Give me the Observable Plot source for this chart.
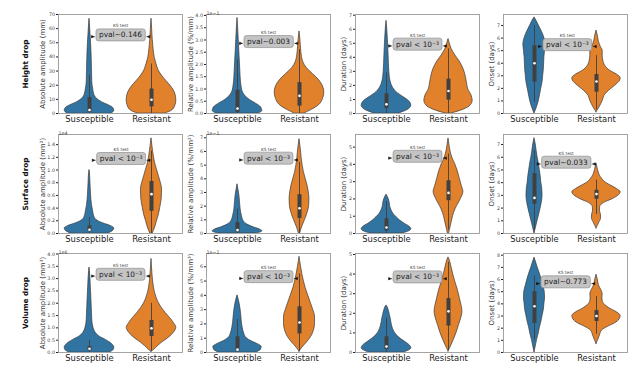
<!DOCTYPE html>
<html><head><meta charset="utf-8">
<script src="https://cdn.jsdelivr.net/npm/d3@7"></script>
<script src="https://cdn.jsdelivr.net/npm/@observablehq/plot@0.6"></script>
<style>
body{margin:0;background:#fff;font-family:"DejaVu Sans",sans-serif;}
#fig{position:relative;width:640px;height:371px;overflow:hidden;background:#fff;}
#fig svg{position:absolute;}
.rowlab{position:absolute;font:bold 7.3px "DejaVu Sans";color:#111;transform:translate(-50%,-50%) rotate(-90deg);white-space:nowrap;}
</style></head><body><div id="fig"></div>
<script>
const categories = ["Susceptible", "Resistant"];
const rowLabels = ["Height drop", "Surface drop", "Volume drop"];
const yLabels = ["Absolute amplitude (mm)", "Relative amplitude (%/mm)", "Duration (days)", "Onset (days)",
  "Absolute amplitude (mm²)", "Relative amplitude (%/mm²)", "Duration (days)", "Onset (days)",
  "Absolute amplitude (mm³)", "Relative amplitude (%/mm³)", "Duration (days)", "Onset (days)"];
const pvalTexts = ["pval~0.146", "pval~0.003", "pval < 10⁻³", "pval < 10⁻³",
  "pval < 10⁻³", "pval < 10⁻³", "pval < 10⁻³", "pval~0.033",
  "pval < 10⁻³", "pval < 10⁻³", "pval < 10⁻³", "pval~0.773"];
const offsetTexts = ["", "1e−1", "", "", "1e4", "1e−1", "", "", "1e6", "1e−1", "", ""];
const yMax = [70, 4.04, 7.05, 7.88, 1.56, 7.24, 5.73, 7.79, 4.02, 6.93, 5.05, 8.14];
const yTicks = [
  [0, 10, 20, 30, 40, 50, 60, 70], [0, 0.5, 1, 1.5, 2, 2.5, 3, 3.5, 4], [0, 1, 2, 3, 4, 5, 6, 7], [0, 1, 2, 3, 4, 5, 6, 7],
  [0, 0.2, 0.4, 0.6, 0.8, 1, 1.2, 1.4], [0, 1, 2, 3, 4, 5, 6, 7], [0, 1, 2, 3, 4, 5], [0, 1, 2, 3, 4, 5, 6, 7],
  [0, 0.5, 1, 1.5, 2, 2.5, 3, 3.5, 4], [0, 1, 2, 3, 4, 5, 6], [0, 1, 2, 3, 4, 5], [0, 1, 2, 3, 4, 5, 6, 7, 8]];
const tickDecimals = [0, 1, 0, 0, 1, 0, 0, 0, 1, 0, 0, 0];
const annotX = [0.5, 0.5, 0.5, 0.53, 0.51, 0.5, 0.5, 0.51, 0.5, 0.5, 0.5, 0.5];
const annotY = [55.5, 2.93, 4.93, 5.47, 1.18, 5.5, 4.46, 5.6, 3.17, 5.3, 3.85, 5.8];

// box statistics: [lower whisker, q1, median, q3, upper whisker]
const boxSusceptible = [[0, 1, 2.5, 11.3, 27], [0, 0.05, 0.2, 0.95, 2.2], [0, 0.35, 0.65, 1.4, 2.9], [0.9, 2.5, 4.0, 5.4, 7.0],
  [0, 0.03, 0.06, 0.12, 0.25], [0, 0.1, 0.25, 0.8, 1.8], [0, 0.15, 0.35, 0.85, 1.85], [0.2, 2.3, 2.8, 4.7, 6.5],
  [0, 0.08, 0.15, 0.25, 0.5], [0, 0.1, 0.2, 1.1, 2.3], [0, 0.15, 0.3, 0.8, 1.75], [1.0, 2.4, 3.8, 5.0, 6.3]];
const boxResistant = [[0, 4.7, 9.7, 17.3, 35], [0, 0.3, 0.72, 1.26, 2.6], [0, 0.95, 1.6, 2.45, 4.6], [0.3, 1.7, 2.55, 3.1, 4.6],
  [0, 0.35, 0.62, 0.82, 1.3], [0, 1.1, 1.85, 2.84, 5.2], [0.2, 1.9, 2.35, 3.05, 4.6], [1.5, 2.7, 3.1, 3.4, 4.2],
  [0.05, 0.65, 0.98, 1.3, 2.0], [0.1, 1.3, 2.1, 3.2, 5.5], [0.1, 1.35, 2.1, 2.75, 4.6], [1.5, 2.55, 3.0, 3.45, 4.6]];

// violin outlines: [value, half-width in category units]
const hAbsS = [[0,0.36],[2,0.4],[4,0.38],[6,0.3],[8,0.2],[10,0.13],[13,0.08],[17,0.06],[22,0.045],[30,0.04],[40,0.035],[50,0.025],[57,0.015],[63,0.007],[67,0]];
const hAbsR = [[0,0.22],[2,0.33],[5,0.38],[9,0.4],[13,0.39],[17,0.35],[21,0.28],[25,0.2],[30,0.12],[35,0.08],[40,0.05],[45,0.035],[52,0.02],[60,0.01],[67,0]];
const hRelS = [[0,0.34],[0.1,0.4],[0.25,0.38],[0.4,0.3],[0.55,0.2],[0.7,0.13],[0.85,0.09],[1.1,0.065],[1.5,0.05],[2.0,0.04],[2.5,0.03],[3.0,0.02],[3.5,0.01],[3.9,0]];
const hRelR = [[0,0.08],[0.15,0.2],[0.35,0.32],[0.6,0.38],[0.85,0.4],[1.1,0.38],[1.35,0.32],[1.6,0.22],[1.85,0.12],[2.1,0.06],[2.5,0.03],[3.0,0.015],[3.35,0]];
const hDurS = [[0,0.2],[0.25,0.34],[0.55,0.4],[0.85,0.37],[1.15,0.28],[1.45,0.18],[1.8,0.11],[2.2,0.07],[3.0,0.045],[4.0,0.035],[5.0,0.025],[6.0,0.012],[6.6,0]];
const hDurR = [[0,0.05],[0.2,0.2],[0.5,0.34],[0.9,0.39],[1.3,0.37],[1.7,0.32],[2.1,0.3],[2.6,0.28],[3.2,0.24],[3.7,0.18],[4.2,0.1],[4.6,0.05],[5.0,0.02],[5.3,0]];
const hOnsS = [[0,0],[0.5,0.04],[1.0,0.07],[1.5,0.09],[2.0,0.11],[2.5,0.13],[3.0,0.14],[3.5,0.15],[4.0,0.155],[4.5,0.16],[5.0,0.17],[5.5,0.18],[6.0,0.16],[6.5,0.12],[7.0,0.07],[7.4,0.03],[7.65,0]];
const hOnsR = [[0.1,0],[0.5,0.05],[1.0,0.1],[1.5,0.14],[1.8,0.2],[2.2,0.3],[2.6,0.38],[2.8,0.39],[3.1,0.33],[3.4,0.22],[3.8,0.14],[4.2,0.11],[4.6,0.1],[5.0,0.1],[5.3,0.07],[5.7,0.04],[6.2,0.02],[6.6,0]];
const sAbsS = [[0,0.3],[0.04,0.38],[0.08,0.4],[0.12,0.34],[0.16,0.22],[0.2,0.13],[0.26,0.08],[0.34,0.06],[0.45,0.04],[0.6,0.025],[0.8,0.015],[0.95,0.007],[1.0,0]];
const sAbsR = [[0,0.02],[0.1,0.06],[0.2,0.09],[0.3,0.12],[0.4,0.14],[0.55,0.165],[0.7,0.17],[0.8,0.15],[0.9,0.12],[1.0,0.09],[1.1,0.06],[1.2,0.04],[1.3,0.025],[1.4,0.012],[1.5,0]];
const sRelS = [[0,0.3],[0.15,0.4],[0.3,0.36],[0.45,0.26],[0.65,0.16],[0.9,0.1],[1.3,0.07],[1.8,0.05],[2.3,0.04],[2.8,0.03],[3.2,0.015],[3.6,0]];
const sRelR = [[0,0.01],[0.5,0.045],[1.0,0.09],[1.5,0.13],[2.0,0.155],[2.5,0.16],[3.0,0.15],[3.5,0.13],[4.0,0.1],[4.5,0.07],[5.0,0.05],[5.5,0.035],[6.0,0.025],[6.5,0.012],[6.9,0]];
const sDurS = [[0,0.25],[0.1,0.35],[0.25,0.4],[0.4,0.37],[0.55,0.3],[0.75,0.22],[0.95,0.16],[1.15,0.11],[1.35,0.08],[1.55,0.06],[1.8,0.05],[2.0,0.035],[2.15,0.015],[2.25,0]];
const sDurR = [[0,0.01],[0.4,0.035],[0.8,0.06],[1.2,0.09],[1.6,0.14],[2.0,0.2],[2.4,0.24],[2.8,0.21],[3.2,0.18],[3.6,0.15],[4.0,0.11],[4.4,0.06],[4.8,0.03],[5.2,0.012],[5.5,0]];
const sOnsS = [[0,0],[0.5,0.025],[1.0,0.05],[1.5,0.075],[2.0,0.1],[2.5,0.12],[3.0,0.13],[3.5,0.125],[4.0,0.11],[4.5,0.1],[5.0,0.085],[5.5,0.07],[6.0,0.05],[6.5,0.035],[7.0,0.02],[7.5,0]];
const sOnsR = [[0.4,0],[0.6,0.02],[0.9,0.05],[1.2,0.075],[1.5,0.07],[1.8,0.055],[2.1,0.06],[2.4,0.12],[2.7,0.26],[3.0,0.36],[3.25,0.39],[3.5,0.33],[3.75,0.24],[4.0,0.15],[4.3,0.09],[4.6,0.05],[5.0,0.025],[5.5,0]];
const vAbsS = [[0,0.33],[0.1,0.39],[0.2,0.4],[0.35,0.36],[0.5,0.27],[0.65,0.16],[0.8,0.1],[1.0,0.065],[1.3,0.045],[1.6,0.04],[1.9,0.035],[2.2,0.03],[2.6,0.022],[3.0,0.015],[3.3,0.007],[3.45,0]];
const vAbsR = [[0.03,0],[0.1,0.04],[0.25,0.1],[0.4,0.17],[0.6,0.28],[0.8,0.36],[1.0,0.4],[1.2,0.36],[1.4,0.3],[1.6,0.23],[1.8,0.17],[2.0,0.12],[2.2,0.085],[2.5,0.05],[2.8,0.03],[3.2,0.015],[3.5,0.007],[3.8,0]];
const vRelS = [[0,0.3],[0.2,0.38],[0.4,0.39],[0.6,0.32],[0.8,0.22],[1.0,0.15],[1.3,0.11],[1.7,0.085],[2.1,0.07],[2.6,0.06],[3.0,0.05],[3.4,0.035],[3.7,0.02],[4.0,0]];
const vRelR = [[0.05,0],[0.3,0.04],[0.7,0.12],[1.1,0.19],[1.5,0.23],[2.0,0.25],[2.5,0.25],[3.0,0.22],[3.5,0.18],[4.0,0.14],[4.5,0.1],[5.0,0.07],[5.5,0.045],[6.0,0.025],[6.4,0.01],[6.7,0]];
const vDurS = [[0,0.28],[0.1,0.36],[0.22,0.4],[0.35,0.38],[0.5,0.32],[0.7,0.23],[0.9,0.16],[1.1,0.12],[1.3,0.095],[1.5,0.08],[1.7,0.07],[1.9,0.055],[2.1,0.04],[2.3,0.02],[2.4,0]];
const vDurR = [[0.05,0],[0.25,0.03],[0.6,0.08],[1.0,0.13],[1.4,0.17],[1.8,0.21],[2.1,0.225],[2.4,0.21],[2.8,0.18],[3.2,0.15],[3.6,0.11],[4.0,0.075],[4.4,0.045],[4.7,0.02],[4.85,0]];
const vOnsS = [[0,0],[0.5,0.02],[1.0,0.04],[1.5,0.065],[2.0,0.085],[2.5,0.11],[3.0,0.13],[3.5,0.15],[4.0,0.16],[4.5,0.17],[5.0,0.165],[5.5,0.14],[6.0,0.115],[6.5,0.085],[7.0,0.05],[7.5,0.02],[7.8,0]];
const vOnsR = [[0.7,0],[1.0,0.025],[1.4,0.055],[1.8,0.09],[2.1,0.18],[2.4,0.3],[2.7,0.37],[3.0,0.39],[3.3,0.33],[3.6,0.22],[3.9,0.14],[4.2,0.1],[4.5,0.095],[4.8,0.1],[5.1,0.08],[5.5,0.04],[6.0,0.02],[6.4,0]];

const violinsS = [hAbsS, hRelS, hDurS, hOnsS, sAbsS, sRelS, sDurS, sOnsS, vAbsS, vRelS, vDurS, vOnsS];
const violinsR = [hAbsR, hRelR, hDurR, hOnsR, sAbsR, sRelR, sDurR, sOnsR, vAbsR, vRelR, vDurR, vOnsR];

// ---- layout (pixels) ----
const colLeft = [58, 206, 355, 503];
const rowTop = [14, 134, 253];
const frameW = 124, frameH = 99;
const mL = 44, mR = 6, mT = 10, mB = 18;
const labelOffset = [16, 16, 12, 12];
const colors = ["#3274a1", "#e1812c"];
const edge = "#3a3a3a";

function violin(profile, cat, color) {
  const d = profile.map(([v, w]) => ({v, x1: cat - w, x2: cat + w}));
  return Plot.areaX(d, {y: "v", x1: "x1", x2: "x2", fill: color, stroke: edge, strokeWidth: 0.7, curve: "monotone-y", clip: true});
}
function boxMarks(stats, cat) {
  const [lo, q1, med, q3, hi] = stats;
  return [
    Plot.ruleX([{x: cat, y1: lo, y2: hi}], {x: "x", y1: "y1", y2: "y2", stroke: "#404040", strokeWidth: 0.9}),
    Plot.ruleX([{x: cat, y1: q1, y2: q3}], {x: "x", y1: "y1", y2: "y2", stroke: "#404040", strokeWidth: 4}),
    Plot.dot([{x: cat, y: med}], {x: "x", y: "y", r: 1.3, fill: "white", stroke: "none"})
  ];
}

const fig = document.getElementById("fig");
for (let i = 0; i < 12; i++) {
  const r = Math.floor(i / 4), c = i % 4;
  const dec = tickDecimals[i];
  const chart = Plot.plot({
    width: frameW + mL + mR, height: frameH + mT + mB,
    marginLeft: mL, marginRight: mR, marginTop: mT, marginBottom: mB,
    style: {background: "transparent", fontFamily: "DejaVu Sans", color: "#222", overflow: "visible"},
    x: {domain: [-0.5, 1.5]},
    y: {domain: [0, yMax[i]]},
    marks: [
      violin(violinsS[i], 0, colors[0]),
      violin(violinsR[i], 1, colors[1]),
      ...boxMarks(boxSusceptible[i], 0),
      ...boxMarks(boxResistant[i], 1),
      Plot.frame({stroke: "#9a9a9a", strokeWidth: 0.9}),
      Plot.axisX({ticks: [0, 1], tickFormat: d => categories[d], fontSize: 8.4, tickSize: 0, tickPadding: 3, label: null}),
      Plot.axisY({ticks: yTicks[i], tickFormat: d => d.toFixed(dec), fontSize: 4.8, tickSize: 2, tickPadding: 1.5, label: null, fill: "#444"}),
      Plot.text([yLabels[i]], {frameAnchor: "left", textAnchor: "middle", rotate: -90, dx: -labelOffset[c], fontSize: 7, fill: "#333"}),
      Plot.text([offsetTexts[i]], {frameAnchor: "top-left", dy: -3, textAnchor: "start", fontSize: 4.8, fill: "#444"}),
      Plot.text([pvalTexts[i]], {x: () => annotX[i], y: () => annotY[i], fontSize: 7.4, fill: "#222", className: "ks", ariaLabel: "ks"}),
      Plot.text(["KS test"], {x: () => annotX[i], y: () => annotY[i], dy: -9, fontSize: 4.3, fill: "#333"})
    ]
  });
  chart.style.left = (colLeft[c] - mL) + "px";
  chart.style.top = (rowTop[r] - mT) + "px";
  fig.appendChild(chart);
}
rowLabels.forEach((t, r) => {
  const d = document.createElement("div");
  d.className = "rowlab";
  d.textContent = t;
  d.style.left = "25px";
  d.style.top = (rowTop[r] + frameH / 2) + "px";
  fig.appendChild(d);
});

// rounded label boxes with small arrowheads around the KS p-values
const ns = "http://www.w3.org/2000/svg";
fig.querySelectorAll('g.ks text, g[aria-label="ks"] text').forEach(t => {
  if (t.dataset.done) return;
  t.dataset.done = "1";
  const b = t.getBBox();
  const g = t.parentNode;
  const tr = t.getAttribute("transform") || "";
  const rect = document.createElementNS(ns, "rect");
  rect.setAttribute("x", b.x - 3); rect.setAttribute("y", b.y - 1.5);
  rect.setAttribute("width", b.width + 6); rect.setAttribute("height", b.height + 3);
  rect.setAttribute("rx", 2.5);
  rect.setAttribute("fill", "#c4c4c4"); rect.setAttribute("stroke", "#8f8f8f"); rect.setAttribute("stroke-width", 0.7);
  rect.setAttribute("transform", tr);
  g.insertBefore(rect, t);
  const cy = b.y + b.height / 2 + 1.8;
  const xl = b.x - 4, xr = b.x + b.width + 4;
  const p = document.createElementNS(ns, "path");
  p.setAttribute("d", `M${xl - 1},${cy}l-2.5,-1.2v2.4z M${xr + 1},${cy}l2.5,-1.2v2.4z M${xl},${cy}h-1.5 M${xr},${cy}h1.5`);
  p.setAttribute("fill", "#111"); p.setAttribute("stroke", "#111"); p.setAttribute("stroke-width", 0.6);
  p.setAttribute("transform", tr);
  g.appendChild(p);
});
</script></body></html>
